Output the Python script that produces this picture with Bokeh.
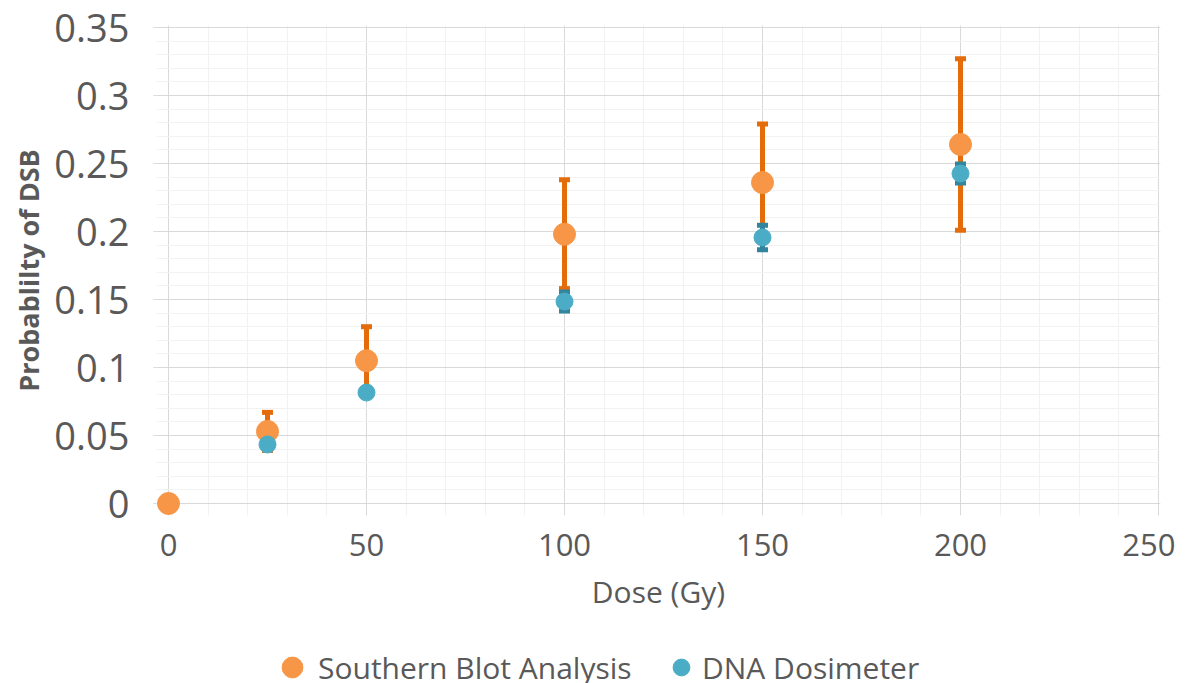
from bokeh.plotting import figure
from bokeh.layouts import column
from bokeh.models import (ColumnDataSource, Whisker, TeeHead, FixedTicker, Range1d,
                          Legend, LegendItem)
from bokeh.embed import file_html
from bokeh.resources import INLINE

# ---------------- data ----------------
dose_southern = [0, 25, 50, 100, 150, 200]
southern = [0.0, 0.053, 0.105, 0.198, 0.236, 0.264]
southern_err = [0.0, 0.014, 0.025, 0.040, 0.043, 0.063]
dose_dna = [25, 50, 100, 150, 200]
dna = [0.0434, 0.0816, 0.1485, 0.1956, 0.2426]
dna_err = [0.003, 0.003, 0.007, 0.009, 0.007]

x_ticks = [0, 50, 100, 150, 200, 250]
x_tick_labels = ["0", "50", "100", "150", "200", "250"]
x_minor = [0, 10, 20, 30, 40, 50, 60, 70, 80, 90, 100, 110, 120, 130, 140, 150,
           160, 170, 180, 190, 200, 210, 220, 230, 240, 250]
y_ticks = [0, 0.05, 0.1, 0.15, 0.2, 0.25, 0.3, 0.35]
y_tick_labels = ["0", "0.05", "0.1", "0.15", "0.2", "0.25", "0.3", "0.35"]
y_minor = [0, 0.01, 0.02, 0.03, 0.04, 0.05, 0.06, 0.07, 0.08, 0.09, 0.1, 0.11, 0.12,
           0.13, 0.14, 0.15, 0.16, 0.17, 0.18, 0.19, 0.2, 0.21, 0.22, 0.23, 0.24, 0.25,
           0.26, 0.27, 0.28, 0.29, 0.3, 0.31, 0.32, 0.33, 0.34, 0.35]

series_names = ["Southern Blot Analysis", "DNA Dosimeter"]

# ---------------- style ----------------
FONT = "Open Sans"
TEXT = "#595959"
ORANGE = "#F79646"
ORANGE_BAR = "#E46C0A"
BLUE = "#4BACC6"
BLUE_BAR = "#31859C"

XSCALE = 3.96      # px per Gy
YSCALE = 1360.0    # px per unit probability

p = figure(frame_width=1004, frame_height=490,
           min_border_left=156, min_border_right=15,
           min_border_top=25, min_border_bottom=115,
           x_range=Range1d(-12 / XSCALE, 250 + 2 / XSCALE),
           y_range=Range1d(-12 / YSCALE, 0.35 + 2 / YSCALE),
           output_backend="svg", toolbar_location=None)
p.outline_line_color = None
p.background_fill_color = "white"
p.border_fill_color = "white"

# axes
p.xaxis.ticker = FixedTicker(ticks=x_ticks, minor_ticks=x_minor)
p.yaxis.ticker = FixedTicker(ticks=y_ticks, minor_ticks=y_minor)
p.xaxis.major_label_overrides = dict(zip(x_ticks, x_tick_labels))
p.yaxis.major_label_overrides = dict(zip(y_ticks, y_tick_labels))

for ax in (p.xaxis[0], p.yaxis[0]):
    ax.axis_line_color = None
    ax.minor_tick_line_color = None
    ax.major_tick_line_color = "#D9D9D9"
    ax.major_label_text_font = FONT
    ax.major_label_text_color = TEXT
    ax.axis_label_text_font = FONT
    ax.axis_label_text_color = TEXT
    ax.axis_label_text_font_style = "normal"

p.xaxis.major_tick_in = 0
p.xaxis.major_tick_out = 0
p.xaxis.major_label_text_font_size = "31px"
p.xaxis.major_label_standoff = 14
p.xaxis.axis_label = "Dose (Gy)"
p.xaxis.axis_label_text_font_size = "30px"
p.xaxis.axis_label_standoff = 12

p.yaxis.major_tick_in = 0
p.yaxis.major_tick_out = 3
p.yaxis.major_label_text_font_size = "38px"
p.yaxis.major_label_standoff = 23
p.yaxis.axis_label = "Probablilty of DSB"
p.yaxis.axis_label_text_font_size = "27px"
p.yaxis.axis_label_text_font_style = "bold"
p.yaxis.axis_label_standoff = 4

# grids
p.xgrid.grid_line_color = "#D9D9D9"
p.ygrid.grid_line_color = "#D9D9D9"
p.xgrid.minor_grid_line_color = "#F2F2F2"
p.ygrid.minor_grid_line_color = "#F2F2F2"

# data sources
src_s = ColumnDataSource(dict(
    x=dose_southern, y=southern,
    upper=[v + e for v, e in zip(southern, southern_err)],
    lower=[v - e for v, e in zip(southern, southern_err)]))
src_d = ColumnDataSource(dict(
    x=dose_dna, y=dna,
    upper=[v + e for v, e in zip(dna, dna_err)],
    lower=[v - e for v, e in zip(dna, dna_err)]))

w1 = Whisker(source=src_s, base="x", upper="upper", lower="lower",
             line_color=ORANGE_BAR, line_width=5, level="underlay",
             upper_head=TeeHead(size=11, line_color=ORANGE_BAR, line_width=5),
             lower_head=TeeHead(size=11, line_color=ORANGE_BAR, line_width=5))
p.add_layout(w1)
r1 = p.scatter("x", "y", source=src_s, size=22, fill_color=ORANGE, line_color=ORANGE)

w2 = Whisker(source=src_d, base="x", upper="upper", lower="lower",
             line_color=BLUE_BAR, line_width=5, level="underlay",
             upper_head=TeeHead(size=11, line_color=BLUE_BAR, line_width=5),
             lower_head=TeeHead(size=11, line_color=BLUE_BAR, line_width=5))
p.add_layout(w2)
r2 = p.scatter("x", "y", source=src_d, size=17, fill_color=BLUE, line_color=BLUE)

# ---------------- legend strip below the chart ----------------
# (same series drawn in a strip whose range shows none of the points; only
#  the legend keys are visible)
p2 = figure(width=1175, height=53, x_axis_type=None, y_axis_type=None,
            x_range=Range1d(1000, 1001), y_range=Range1d(1000, 1001), min_border=0,
            output_backend="svg", toolbar_location=None)
p2.outline_line_color = None
p2.background_fill_color = "white"
p2.border_fill_color = "white"
k1 = p2.scatter("x", "y", source=src_s, size=22, fill_color=ORANGE, line_color=ORANGE)
k2 = p2.scatter("x", "y", source=src_d, size=17, fill_color=BLUE, line_color=BLUE)

common = dict(orientation="horizontal", padding=0, margin=0,
              border_line_color=None, background_fill_alpha=0,
              label_text_font=FONT, label_text_font_size="30px",
              label_text_color=TEXT)
leg1 = Legend(items=[LegendItem(label=series_names[0], renderers=[k1])],
              location=(110, -10), glyph_width=52, glyph_height=52,
              label_height=52, label_standoff=-5, **common)
leg2 = Legend(items=[LegendItem(label=series_names[1], renderers=[k2])],
              location=(504, -5), glyph_width=42, glyph_height=42,
              label_height=42, label_standoff=-2, **common)
p2.add_layout(leg1)
p2.add_layout(leg2)

layout = column(p, p2, spacing=0)
open("out.html", "w").write(file_html(layout, INLINE))
